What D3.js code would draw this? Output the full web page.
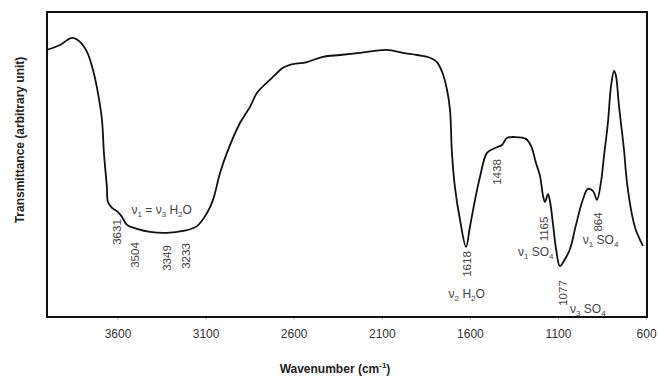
<!DOCTYPE html>
<html>
<head>
<meta charset="utf-8">
<script src="https://cdn.jsdelivr.net/npm/d3@7/dist/d3.min.js"></script>
<style>
  body { margin: 0; background: #fff; }
  text { font-family: "Liberation Sans", Arial, sans-serif; }
</style>
</head>
<body>
<svg id="chart" width="659" height="376"></svg>
<script>
// spectrum (cm-1, arbitrary transmittance)
const wavenumber = [4000, 3926, 3858, 3813, 3773, 3739, 3711, 3688, 3677, 3660, 3654, 3631, 3597, 3574, 3546,
  3489, 3415, 3319, 3228, 3149, 3092, 3058, 3018, 2979, 2905, 2848, 2808, 2723, 2661, 2621, 2525, 2434, 2337,
  2224, 2071, 1980, 1900, 1826, 1787, 1758, 1730, 1713, 1702, 1685, 1656, 1622, 1600, 1571, 1543, 1503, 1458,
  1418, 1390, 1344, 1282, 1253, 1225, 1202, 1185, 1174, 1157, 1145, 1128, 1111, 1089, 1060, 1032, 998, 958,
  930, 901, 879, 856, 839, 817, 799, 782, 771, 754, 726, 709, 680, 658, 629, 618];
const transmittance = [87.6, 89.2, 91.5, 90.2, 86.9, 81.0, 73.5, 64.6, 53.8, 42.6, 37.7, 35.8, 34.4, 32.8, 30.2,
  28.9, 27.9, 27.6, 28.2, 29.8, 34.1, 38.4, 47.2, 53.8, 63.6, 68.9, 73.5, 78.4, 81.7, 82.7, 83.6, 85.3, 85.9,
  86.6, 87.6, 86.6, 85.9, 85.0, 83.6, 80.4, 74.5, 67.9, 53.8, 42.6, 31.8, 23.0, 29.5, 38.4, 45.9, 53.8, 55.4,
  56.4, 58.7, 59.0, 58.4, 56.1, 50.5, 46.2, 39.7, 37.7, 40.3, 37.7, 30.2, 22.3, 16.7, 19.0, 22.3, 30.2, 38.7,
  42.0, 41.3, 38.4, 44.3, 52.8, 63.6, 75.8, 80.7, 79.0, 69.2, 55.1, 44.3, 33.5, 28.5, 24.6, 23.3];

const xTicks = [3600, 3100, 2600, 2100, 1600, 1100, 600];
const peakNames = ["3631", "3504", "3349", "3233", "1618", "1438", "1165", "1077", "864"];

// band assignments: [text, subscript] pieces
const bandH2OStretch = [["ν", "1"], [" = ν", "3"], [" H", "2"], ["O", ""]];
const bandH2OBend = [["ν", "2"], [" H", "2"], ["O", ""]];
const bandSO4a = [["ν", "1"], [" SO", "4"]];
const bandSO4b = [["ν", "3"], [" SO", "4"]];
const bandSO4c = [["ν", "1"], [" SO", "4"]];

const margin = {top: 12, right: 12, bottom: 59, left: 47};
const width = 659 - margin.left - margin.right;
const height = 376 - margin.top - margin.bottom;

const svg = d3.select("#chart");
const g = svg.append("g").attr("transform", `translate(${margin.left},${margin.top})`);

const x = d3.scaleLinear().domain([4000, 595]).range([0, width]);
const y = d3.scaleLinear().domain([0, 100]).range([height, 0]);

// axis
const axisX = d3.axisBottom(x).tickValues(xTicks).tickSize(3).tickPadding(9).tickFormat(d3.format("d"));
const ax = g.append("g").attr("transform", `translate(0,${height})`).call(axisX);
ax.select(".domain").remove();
ax.selectAll(".tick line").attr("stroke", "#bbb");
ax.selectAll(".tick text").attr("font-size", 12).attr("fill", "#333")
  .attr("font-family", "'Liberation Sans', Arial, sans-serif");

// curve
const pts = wavenumber.map((w, i) => [w, transmittance[i]]);
const line = d3.line().x(d => x(d[0])).y(d => y(d[1])).curve(d3.curveCatmullRom.alpha(0.5));
g.append("path").datum(pts)
  .attr("d", line)
  .attr("fill", "none")
  .attr("stroke", "#111")
  .attr("stroke-width", 1.8)
  .attr("stroke-linejoin", "round");

// frame
g.append("rect").attr("width", width).attr("height", height)
  .attr("fill", "none").attr("stroke", "#111").attr("stroke-width", 2);

// peak numbers, rotated
const peakY = [220, 243, 246, 244, 252, 160, 217, 281, 210]; // px from top of plot
const peakDx = [5, 1, 5, 4, 0, -1, -3, 1, -2];
peakNames.forEach((p, i) => {
  g.append("text")
    .attr("transform", `translate(${x(+p) + peakDx[i]},${peakY[i]}) rotate(-90)`)
    .attr("text-anchor", "middle")
    .attr("dominant-baseline", "central")
    .attr("font-size", 11.5)
    .attr("fill", "#444")
    .text(p);
});

function band(parts, px, py, anchor) {
  const t = g.append("text")
    .attr("x", px).attr("y", py)
    .attr("text-anchor", anchor)
    .attr("font-size", 12)
    .attr("fill", "#444");
  let down = false;
  parts.forEach(([main, sub]) => {
    t.append("tspan").attr("dy", down ? -3 : 0).text(main);
    down = false;
    if (sub) {
      t.append("tspan").attr("font-size", 8).attr("dy", 3).text(sub);
      down = true;
    }
  });
}

band(bandH2OStretch, x(3349), 202, "middle");
band(bandH2OBend, x(1618), 286, "middle");
band(bandSO4a, x(1165) + 7, 244, "end");
band(bandSO4b, x(1077) + 8, 301, "start");
band(bandSO4c, x(864) + 1, 232, "middle");

// titles
const xt = svg.append("text")
  .attr("x", 335).attr("y", 373)
  .attr("text-anchor", "middle")
  .attr("font-size", 12).attr("font-weight", "bold").attr("fill", "#222");
xt.append("tspan").text("Wavenumber (cm");
xt.append("tspan").attr("font-size", 8).attr("dy", -5).text("-1");
xt.append("tspan").attr("dy", 5).text(")");

svg.append("text")
  .attr("transform", "translate(20,140) rotate(-90)")
  .attr("text-anchor", "middle")
  .attr("dominant-baseline", "central")
  .attr("font-size", 12).attr("font-weight", "bold").attr("fill", "#222")
  .text("Transmittance (arbitrary unit)");
</script>
</body>
</html>
